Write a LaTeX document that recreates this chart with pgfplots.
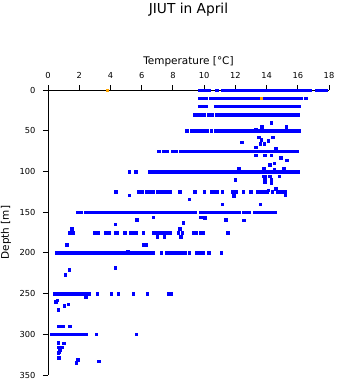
\documentclass[border=0pt]{standalone}
\usepackage{fontspec}
\setmainfont{DejaVu Sans}
\usepackage{pgfplots}
\pgfplotsset{compat=1.18}
\definecolor{myblue}{RGB}{0,0,255}
\definecolor{myorange}{RGB}{255,165,0}
\begin{document}
\begin{tikzpicture}
\useasboundingbox (0,0) rectangle (341bp,384bp);
\begin{axis}[
  at={(48bp,9bp)}, anchor=south west,
  scale only axis, width=281bp, height=285bp,
  xmin=0, xmax=18, ymin=0, ymax=350,
  y dir=reverse,
  axis x line*=top, axis y line*=left,
  clip=false,
  xtick={0,2,...,18}, ytick={0,50,...,350},
  tick align=outside, major tick length=5bp,
  tick style={black, line width=0.8bp},
  axis line style={black, line width=0.8bp},
  /pgf/number format/assume math mode=true,
  ticklabel style={font=\fontsize{8.3}{10}\selectfont},
  xticklabel style={yshift=3bp},
  yticklabel style={xshift=-4bp},
  xlabel={Temperature [°C]},
  xlabel style={font=\fontsize{10.5}{12}\selectfont, at={(axis description cs:0.5,1)}, anchor=base, yshift=26bp},
  ylabel={Depth [m]},
  ylabel style={font=\fontsize{10.5}{12}\selectfont, at={(axis description cs:-0.1388,0.5)}, anchor=base},
  title={JIUT in April},
  title style={font=\fontsize{13.8}{15}\selectfont, at={(axis description cs:0.5,1)}, anchor=base, yshift=71bp},
  pt/.style={only marks, mark=square*, mark size=1.3bp, color=myblue, mark options={fill=myblue, draw=myblue, line width=0.4bp}},
]
% depth 0
\addplot[pt] coordinates {(9.7,0)(9.9,0)(10.1,0)(10.3,0)(10.8,0)(11.2,0)(11.4,0)(11.6,0)(11.8,0)(12.0,0)(12.2,0)(12.4,0)(12.6,0)(12.8,0)(13.0,0)(13.2,0)(13.4,0)(13.6,0)(13.8,0)(14.0,0)(14.2,0)(14.4,0)(14.6,0)(14.8,0)(15.0,0)(15.2,0)(15.4,0)(15.6,0)(15.8,0)(16.0,0)(16.2,0)(16.4,0)(16.6,0)(16.8,0)(17.2,0)(17.4,0)(17.6,0)(17.8,0)};
% depth 10
\addplot[pt] coordinates {(9.7,10)(9.9,10)(10.1,10)(10.4,10)(10.6,10)(10.8,10)(11.0,10)(11.2,10)(11.4,10)(11.6,10)(11.8,10)(12.0,10)(12.2,10)(12.4,10)(12.6,10)(12.8,10)(13.0,10)(13.2,10)(13.4,10)(13.6,10)(13.8,10)(14.0,10)(14.2,10)(14.4,10)(14.6,10)(14.8,10)(15.0,10)(15.2,10)(15.4,10)(15.6,10)(15.8,10)(16.0,10)(16.2,10)(16.5,10)};
% depth 20
\addplot[pt] coordinates {(9.7,20)(9.9,20)(10.1,20)(10.7,20)(10.9,20)(11.1,20)(11.3,20)(11.5,20)(11.7,20)(11.9,20)(12.1,20)(12.3,20)(12.5,20)(12.7,20)(12.9,20)(13.1,20)(13.3,20)(13.5,20)(13.7,20)(13.9,20)(14.1,20)(14.3,20)(14.5,20)(14.7,20)(14.9,20)(15.1,20)(15.3,20)(15.5,20)(15.7,20)(15.9,20)(16.1,20)};
% depth 30
\addplot[pt] coordinates {(9.4,30)(9.6,30)(9.8,30)(10.0,30)(10.3,30)(10.5,30)(10.8,30)(11.0,30)(11.2,30)(11.4,30)(11.6,30)(11.8,30)(12.0,30)(12.2,30)(12.4,30)(12.6,30)(12.8,30)(13.0,30)(13.2,30)(13.4,30)(13.6,30)(13.8,30)(14.0,30)(14.2,30)(14.4,30)(14.6,30)(14.8,30)(15.0,30)(15.2,30)(15.4,30)(15.6,30)(15.8,30)(16.0,30)};
% depth 50
\addplot[pt] coordinates {(8.9,50)(9.2,50)(9.4,50)(9.6,50)(9.8,50)(10.0,50)(10.2,50)(10.45,50)(10.7,50)(10.9,50)(11.1,50)(11.3,50)(11.5,50)(11.7,50)(11.9,50)(12.1,50)(12.3,50)(12.5,50)(12.7,50)(12.9,50)(13.1,50)(13.3,50)(13.5,50)(13.7,50)(13.9,50)(14.1,50)(14.3,50)(14.5,50)(14.7,50)(14.9,50)(15.1,50)(15.3,50)(15.5,50)(15.7,50)(15.9,50)(16.1,50)};
% depth 75
\addplot[pt] coordinates {(7.1,75)(7.4,75)(7.6,75)(8.0,75)(8.2,75)(8.5,75)(8.7,75)(8.9,75)(9.1,75)(9.3,75)(9.5,75)(9.7,75)(9.9,75)(10.1,75)(10.3,75)(10.5,75)(10.7,75)(10.9,75)(11.1,75)(11.3,75)(11.5,75)(11.7,75)(11.9,75)(12.1,75)(12.3,75)(12.5,75)(12.7,75)(12.9,75)(13.1,75)(13.3,75)(13.5,75)(13.7,75)(13.9,75)(14.1,75)(14.3,75)(14.5,75)(14.7,75)(14.9,75)(15.1,75)(15.3,75)(15.5,75)(15.7,75)(15.95,75)};
% depth 100
\addplot[pt] coordinates {(5.2,100)(5.6,100)(6.5,100)(6.7,100)(6.9,100)(7.1,100)(7.3,100)(7.5,100)(7.7,100)(7.9,100)(8.1,100)(8.3,100)(8.5,100)(8.7,100)(8.9,100)(9.1,100)(9.3,100)(9.5,100)(9.7,100)(9.9,100)(10.1,100)(10.3,100)(10.5,100)(10.7,100)(10.9,100)(11.1,100)(11.3,100)(11.5,100)(11.7,100)(11.9,100)(12.1,100)(12.3,100)(12.5,100)(12.7,100)(12.9,100)(13.1,100)(13.3,100)(13.5,100)(13.7,100)(13.9,100)(14.1,100)(14.3,100)(14.5,100)(14.7,100)(14.9,100)(15.1,100)(15.3,100)(15.5,100)(15.7,100)(15.9,100)(16.0,100)};
% depth 125
\addplot[pt] coordinates {(4.35,125)(5.8,125)(6.0,125)(6.3,125)(6.5,125)(6.7,125)(7.0,125)(7.2,125)(7.4,125)(7.6,125)(7.8,125)(8.45,125)(9.4,125)(10.0,125)(10.45,125)(10.65,125)(10.85,125)(11.15,125)(11.85,125)(12.05,125)(12.5,125)(13.0,125)(13.45,125)(13.65,125)(13.85,125)(14.0,125)(14.35,125)(14.7,125)(14.9,125)(15.0,125)(15.2,125)};
% depth 150
\addplot[pt] coordinates {(1.9,150)(2.1,150)(2.4,150)(2.55,150)(2.8,150)(3.0,150)(3.2,150)(3.4,150)(3.6,150)(3.8,150)(4.0,150)(4.2,150)(4.4,150)(4.6,150)(4.8,150)(5.0,150)(5.2,150)(5.4,150)(5.6,150)(5.8,150)(6.0,150)(6.2,150)(6.4,150)(6.6,150)(6.8,150)(7.0,150)(7.2,150)(7.4,150)(7.6,150)(7.8,150)(8.0,150)(8.2,150)(8.4,150)(8.6,150)(8.8,150)(9.0,150)(9.2,150)(9.4,150)(9.8,150)(10.0,150)(10.2,150)(10.4,150)(10.6,150)(10.8,150)(11.0,150)(11.2,150)(11.4,150)(11.6,150)(11.8,150)(12.0,150)(12.2,150)(12.5,150)(12.7,150)(12.9,150)(13.2,150)(13.4,150)(13.6,150)(13.8,150)(14.0,150)(14.2,150)(14.4,150)(14.55,150)};
% depth 175
\addplot[pt] coordinates {(1.4,175)(1.6,175)(3.0,175)(3.2,175)(3.7,175)(3.9,175)(4.3,175)(4.4,175)(4.9,175)(5.3,175)(5.5,175)(5.6,175)(6.1,175)(6.75,175)(6.9,175)(7.05,175)(7.3,175)(7.45,175)(7.6,175)(7.8,175)(8.35,175)(8.6,175)(9.3,175)(9.5,175)(9.75,175)(9.95,175)(11.5,175)};
% depth 200
\addplot[pt] coordinates {(0.55,200)(0.7,200)(0.9,200)(1.1,200)(1.3,200)(1.5,200)(1.7,200)(1.9,200)(2.1,200)(2.3,200)(2.5,200)(2.7,200)(2.9,200)(3.1,200)(3.3,200)(3.5,200)(3.7,200)(3.9,200)(4.1,200)(4.3,200)(4.5,200)(4.7,200)(4.9,200)(5.1,200)(5.3,200)(5.5,200)(5.7,200)(5.9,200)(6.1,200)(6.3,200)(6.5,200)(6.7,200)(7.25,200)(7.6,200)(7.8,200)(8.0,200)(8.2,200)(8.4,200)(8.6,200)(8.8,200)(9.05,200)(9.5,200)(9.7,200)(9.9,200)(10.3,200)(11.1,200)};
% depth 250
\addplot[pt] coordinates {(0.4,250)(0.6,250)(0.8,250)(1.0,250)(1.2,250)(1.4,250)(1.6,250)(1.8,250)(2.0,250)(2.2,250)(2.4,250)(2.6,250)(3.15,250)(4.05,250)(4.5,250)(5.45,250)(6.35,250)(7.7,250)(7.9,250)};
% depth 300
\addplot[pt] coordinates {(0.2,300)(0.4,300)(0.6,300)(0.8,300)(1.0,300)(1.2,300)(1.4,300)(1.6,300)(1.8,300)(2.0,300)(2.2,300)(2.4,300)(3.1,300)(5.65,300)};
% scattered
\addplot[pt] coordinates {(14.3,40)(13.7,45)(15.25,45)(13.3,48)(13.5,58)(13.65,61)(14.1,62)(14.4,58)(12.4,64)(13.85,66)(13.6,66)(13.3,70)(14.6,72)(13.3,80)(13.9,80)(14.3,80)(14.9,83)(15.3,86)(14.5,90)(14.2,92)(12.2,96)(13.8,97)(14.5,98)(15.1,97)(13.8,106)(13.9,106)(14.2,106)(14.8,106)(12.0,110)(13.9,110)(14.3,110)(13.9,113)(14.3,114)(14.6,121)(14.1,123)(5.2,129)(11.9,130)(9.05,134)(15.2,129)(11.15,140)(13.6,140)(9.8,156)(10.05,157)(8.65,163)(8.45,170)(11.4,159)(12.55,160)(6.75,156)(5.7,159)(4.3,165)(1.5,170)(1.2,190)(6.1,190)(6.3,190)(7.0,180)(7.45,180)(8.5,180)(5.1,198)(4.3,218)(1.35,221)(1.1,227)(0.6,258)(0.5,260)(0.65,270)(1.05,265)(1.3,263)(2.4,254)(0.65,290)(0.8,290)(0.95,290)(1.4,290)(0.65,310)(1.0,311)(0.7,316)(0.9,316)(0.75,319)(0.7,322)(0.65,323)(0.7,329)(1.8,335)(1.9,331)(3.25,333)};
% orange
\addplot[pt, color=myorange, mark options={fill=myorange, draw=myorange}] coordinates {(3.8,0)(13.65,10)};
\end{axis}
\end{tikzpicture}
\end{document}
